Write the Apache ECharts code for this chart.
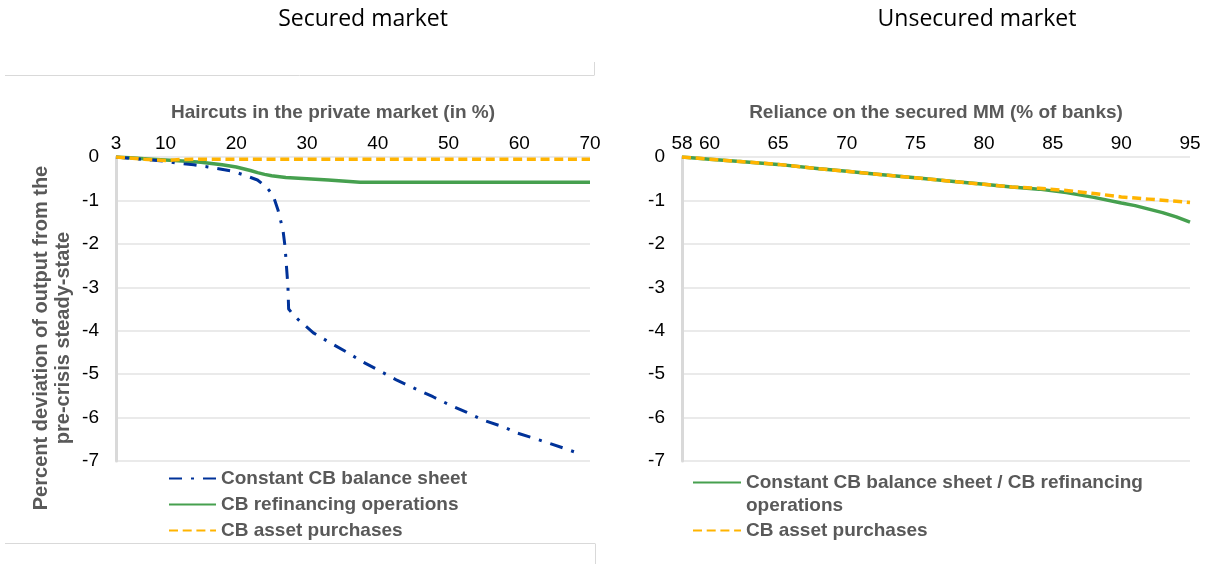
<!DOCTYPE html>
<html>
<head>
<meta charset="utf-8">
<script src="https://cdn.jsdelivr.net/npm/echarts@6.0.0/dist/echarts.min.js"></script>
<style>
    html, body { margin: 0; padding: 0; background: #fff; }
    #chart { width: 1207px; height: 564px; }
</style>
</head>
<body>
<div id="chart"></div>
<script>
// --- Secured market (x = haircut in %) ---
const haircutTicks = [3, 10, 20, 30, 40, 50, 60, 70]

const constantHaircut = [3, 5, 8, 10, 12, 14, 16, 17.5, 19.5, 21, 23, 24.3, 25.2, 25.9, 26.6, 26.9, 27.1, 27.3, 27.4, 28, 28.8, 30.9, 33.3, 35.6, 37.9, 40.8, 42.7, 45.5, 47.8, 50.2, 52.6, 54.9, 57.7, 59.6, 62.9, 66.2, 68.5]
const constantValues = [0, -0.03, -0.07, -0.1, -0.15, -0.18, -0.23, -0.27, -0.33, -0.41, -0.53, -0.7, -0.88, -1.22, -1.68, -2.07, -2.53, -2.96, -3.5, -3.62, -3.75, -4.05, -4.28, -4.49, -4.72, -4.97, -5.14, -5.35, -5.52, -5.71, -5.88, -6.06, -6.21, -6.35, -6.52, -6.7, -6.83]

const refiHaircut = [3, 5, 8, 10, 13, 15, 18, 20, 22, 23, 24, 25, 27, 30, 33, 35, 37.5, 40, 50, 60, 70]
const refiValues = [0, -0.02, -0.05, -0.07, -0.1, -0.12, -0.18, -0.23, -0.31, -0.36, -0.4, -0.43, -0.47, -0.5, -0.53, -0.55, -0.58, -0.58, -0.58, -0.58, -0.58]

const purchHaircut = [3, 7, 10, 12, 14, 20, 30, 40, 50, 60, 70]
const purchValues = [0, -0.05, -0.08, -0.06, -0.05, -0.05, -0.05, -0.05, -0.05, -0.05, -0.05]

// --- Unsecured market (x = % of banks relying on secured MM) ---
const relianceTicks = [58, 60, 65, 70, 75, 80, 85, 90, 95]

const unsecRefiX = [58, 60, 62, 65, 68, 70, 72, 75, 78, 80, 82, 84, 86, 88, 90, 91, 92, 93, 94, 95]
const unsecRefiValues = [0, -0.05, -0.1, -0.17, -0.27, -0.33, -0.39, -0.48, -0.57, -0.63, -0.69, -0.74, -0.82, -0.93, -1.06, -1.12, -1.2, -1.28, -1.38, -1.5]

const unsecPurchX = [58, 60, 62, 65, 68, 70, 72, 75, 78, 80, 82, 84, 86, 88, 90, 92, 94, 95]
const unsecPurchValues = [0, -0.05, -0.1, -0.17, -0.27, -0.33, -0.39, -0.48, -0.57, -0.63, -0.69, -0.72, -0.77, -0.84, -0.92, -0.97, -1.02, -1.05]

const pairs = (xs, ys) => xs.map((x, i) => [x, ys[i]])

const BLUE = '#003299'
const GREEN = '#46a04f'
const ORANGE = '#ffb400'
const GREY_TEXT = '#595959'
const AXIS_FONT = 'Liberation Sans, Arial, sans-serif'

const xAxisBase = (gridIndex, min, max, ticks, name, namePad) => ({
    type: 'value',
    gridIndex,
    position: 'top',
    min,
    max,
    name,
    nameLocation: 'middle',
    nameGap: 35,
    nameTextStyle: {
        fontFamily: AXIS_FONT,
        fontWeight: 'bold',
        fontSize: 19,
        color: GREY_TEXT,
        padding: namePad
    },
    axisLine: { show: false },
    axisTick: { show: false },
    splitLine: { show: false },
    axisLabel: {
        customValues: ticks,
        margin: 4,
        fontFamily: AXIS_FONT,
        fontSize: 19,
        color: '#000'
    }
})

const yAxisBase = (gridIndex) => ({
    type: 'value',
    gridIndex,
    min: -7,
    max: 0,
    interval: 1,
    axisLine: { show: true, lineStyle: { color: '#d9d9d9', width: 3 } },
    axisTick: { show: false },
    splitLine: { lineStyle: { color: '#e3e3e3', width: 1.5 } },
    axisLabel: {
        margin: 17,
        fontFamily: AXIS_FONT,
        fontSize: 19,
        color: '#000'
    }
})

const legendText = {
    fontFamily: AXIS_FONT,
    fontWeight: 'bold',
    fontSize: 19,
    color: GREY_TEXT
}

// hide the legend symbol so only the line sample shows
const legendItem = { opacity: 0 }

const chart = echarts.init(document.getElementById('chart'))

chart.setOption({
    animation: false,
    title: [
        {
            text: 'Secured market',
            left: 358,
            top: 3,
            textAlign: 'center',
            textStyle: { fontFamily: 'Open Sans', fontWeight: 'normal', fontSize: 23, color: '#000' }
        },
        {
            text: 'Unsecured market',
            left: 972,
            top: 3,
            textAlign: 'center',
            textStyle: { fontFamily: 'Open Sans', fontWeight: 'normal', fontSize: 23, color: '#000' }
        }
    ],
    grid: [
        { left: 116, width: 474, top: 157, height: 304 },
        { left: 682, width: 508, top: 157, height: 304 }
    ],
    xAxis: [
        xAxisBase(0, 3, 70, haircutTicks, 'Haircuts in the private market (in %)', [0, 40, 0, 0]),
        xAxisBase(1, 58, 95, relianceTicks, 'Reliance on the secured MM (% of banks)', 0)
    ],
    yAxis: [yAxisBase(0), yAxisBase(1)],
    legend: [
        {
            orient: 'vertical',
            left: 163,
            top: 464,
            itemWidth: 47,
            itemHeight: 14,
            itemGap: 7,
            itemStyle: legendItem,
            textStyle: legendText,
            data: ['Constant CB balance sheet', 'CB refinancing operations', 'CB asset purchases']
        },
        {
            orient: 'vertical',
            left: 687,
            top: 443,
            itemWidth: 48,
            itemHeight: 14,
            itemStyle: legendItem,
            textStyle: Object.assign({ lineHeight: 23 }, legendText),
            formatter: () => '\nConstant CB balance sheet / CB refinancing\noperations',
            data: ['Constant CB balance sheet / CB refinancing operations']
        },
        {
            orient: 'vertical',
            left: 687,
            top: 516,
            itemWidth: 48,
            itemHeight: 14,
            itemStyle: legendItem,
            textStyle: legendText,
            data: ['CB asset purchases']
        }
    ],
    graphic: [
        {
            type: 'text',
            x: 52,
            y: 338,
            rotation: Math.PI / 2,
            style: {
                text: 'Percent deviation of output from the\npre-crisis steady-state',
                align: 'center',
                verticalAlign: 'middle',
                lineHeight: 22,
                font: 'bold 20px "Liberation Sans", Arial, sans-serif',
                fill: GREY_TEXT
            }
        },
        // frame pieces round the left panel
        { type: 'line', shape: { x1: 5, y1: 75.5, x2: 594, y2: 75.5 }, style: { stroke: '#d9d9d9', lineWidth: 1 } },
        { type: 'line', shape: { x1: 594.5, y1: 62, x2: 594.5, y2: 75.5 }, style: { stroke: '#d9d9d9', lineWidth: 1 } },
        { type: 'line', shape: { x1: 5, y1: 543.5, x2: 595, y2: 543.5 }, style: { stroke: '#d9d9d9', lineWidth: 1 } },
        { type: 'line', shape: { x1: 595.5, y1: 543.5, x2: 595.5, y2: 564 }, style: { stroke: '#d9d9d9', lineWidth: 1 } }
    ],
    series: [
        {
            name: 'CB asset purchases',
            type: 'line',
            xAxisIndex: 0,
            yAxisIndex: 0,
            symbol: 'none',
            z: 3,
            lineStyle: { color: ORANGE, width: 3.5, type: [9, 4.7] },
            itemStyle: { color: ORANGE },
            data: pairs(purchHaircut, purchValues)
        },
        {
            name: 'CB refinancing operations',
            type: 'line',
            xAxisIndex: 0,
            yAxisIndex: 0,
            symbol: 'none',
            z: 2,
            lineStyle: { color: GREEN, width: 3.5 },
            itemStyle: { color: GREEN },
            data: pairs(refiHaircut, refiValues)
        },
        {
            name: 'Constant CB balance sheet',
            type: 'line',
            xAxisIndex: 0,
            yAxisIndex: 0,
            symbol: 'none',
            z: 2,
            lineStyle: { color: BLUE, width: 3, type: [13, 9, 3, 9] },
            itemStyle: { color: BLUE },
            data: pairs(constantHaircut, constantValues)
        },
        {
            name: 'Constant CB balance sheet / CB refinancing operations',
            type: 'line',
            xAxisIndex: 1,
            yAxisIndex: 1,
            symbol: 'none',
            z: 2,
            lineStyle: { color: GREEN, width: 3.5 },
            itemStyle: { color: GREEN },
            data: pairs(unsecRefiX, unsecRefiValues)
        },
        {
            name: 'CB asset purchases',
            type: 'line',
            xAxisIndex: 1,
            yAxisIndex: 1,
            symbol: 'none',
            z: 3,
            lineStyle: { color: ORANGE, width: 3.5, type: [9, 4.7] },
            itemStyle: { color: ORANGE },
            data: pairs(unsecPurchX, unsecPurchValues)
        }
    ]
})
</script>
</body>
</html>
